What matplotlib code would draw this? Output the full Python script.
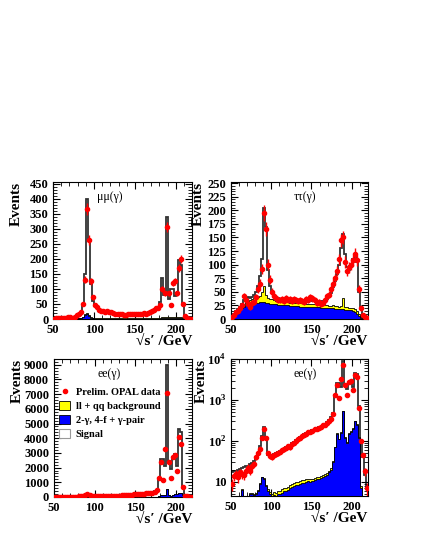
import numpy as np
import matplotlib
matplotlib.use('Agg')
import matplotlib.pyplot as plt
from matplotlib.patches import Patch
from matplotlib.lines import Line2D
from matplotlib.ticker import MultipleLocator, FixedLocator, NullFormatter

plt.rcParams['font.family'] = ['Liberation Serif', 'DejaVu Serif']
plt.rcParams['mathtext.fontset'] = 'custom'
plt.rcParams['mathtext.rm'] = 'Liberation Serif:bold'
plt.rcParams['mathtext.bf'] = 'Liberation Serif:bold'

# sqrt(s') bins, 2.5 GeV wide from 50 to 220 GeV
edges = np.arange(50.0, 220.1, 2.5)

# ---- mu mu (gamma) ----
mm_data = [1, 2, 2, 3, 2, 4, 3, 5, 6, 4, 8, 12, 15, 22, 50, 130, 365, 262, 125, 72,
           45, 40, 30, 28, 25, 22, 26, 24, 22, 20, 18, 16, 18, 15, 13, 14, 17, 18, 16, 17,
           15, 17, 18, 16, 20, 17, 20, 22, 25, 30, 35, 38, 45, 100, 85, 305, 85, 45, 120, 125,
           85, 170, 200, 50, 10, 3, 1, 1]
mm_total = [2, 2, 2, 3, 3, 3, 4, 4, 5, 6, 7, 9, 12, 20, 45, 150, 400, 265, 115, 60,
            42, 35, 30, 27, 25, 24, 22, 21, 20, 19, 18, 17, 17, 16, 16, 15, 15, 15, 15, 16,
            16, 16, 17, 17, 18, 19, 20, 22, 24, 27, 32, 40, 55, 135, 80, 340, 65, 100, 100, 75,
            80, 195, 180, 45, 8, 3, 2, 1]
mm_twogam = [0.5, 0.5, 0.5, 0.5, 1, 1, 1, 1, 1, 1, 1, 1, 2, 3, 6, 12, 15, 10, 4, 2,
             1, 1, 1, 1, 1, 1, 1, 1, 1, 1, 1, 1, 1, 1, 1, 1, 1, 1, 1, 1,
             1, 1, 1, 1, 1, 1, 1, 1, 1, 1, 1, 1, 1, 2, 2, 3, 2, 2, 2, 2,
             2, 2, 2, 1, 0.5, 0, 0, 0]
mm_llqq = [0.5, 0.5, 0.5, 0.5, 1, 1, 1, 1, 1, 1, 1, 1, 1, 1, 2, 3, 4, 3, 2, 1,
           1, 1, 1, 1, 1, 1, 1, 1, 1, 1, 1, 1, 1, 1, 1, 1, 1, 1, 1, 1,
           1, 1, 1, 1, 1, 1, 1, 1, 1, 1, 2, 2, 2, 3, 3, 5, 3, 3, 3, 3,
           3, 3, 3, 2, 1, 0, 0, 0]

# ---- tau tau (gamma) ----
tt_data = [3, 8, 12, 15, 20, 25, 42, 35, 28, 22, 30, 32, 40, 55, 65, 92, 195, 165, 100, 72,
           50, 42, 38, 35, 35, 36, 34, 38, 35, 36, 34, 36, 35, 33, 35, 33, 32, 36, 35, 40,
           38, 35, 30, 32, 28, 30, 35, 42, 45, 55, 65, 75, 88, 110, 145, 150, 105, 88, 95, 100,
           108, 120, 108, 55, 20, 8, 3, 1]
tt_total = [5, 10, 14, 18, 22, 28, 35, 38, 40, 38, 40, 45, 50, 60, 80, 110, 205, 170, 90, 60,
            48, 42, 40, 38, 37, 36, 36, 36, 35, 35, 35, 35, 35, 35, 34, 34, 34, 34, 34, 33,
            33, 33, 33, 33, 33, 33, 35, 37, 40, 48, 58, 70, 82, 100, 130, 157, 120, 95, 90, 100,
            110, 118, 105, 50, 20, 10, 5, 3]
tt_twogam = [3, 6, 10, 14, 17, 20, 23, 25, 27, 28, 29, 30, 30, 30, 31, 31, 31, 30, 29, 28,
             28, 27, 27, 26, 26, 25, 25, 25, 25, 24, 24, 24, 24, 24, 23, 23, 23, 23, 23, 22,
             22, 22, 22, 22, 21, 21, 21, 21, 20, 20, 20, 19, 19, 18, 18, 18, 17, 17, 16, 16,
             15, 13, 10, 6, 2, 0, 0, 0]
tt_llqq = [1, 1, 2, 2, 3, 4, 5, 6, 7, 7, 8, 8, 8, 10, 12, 18, 30, 15, 10, 9,
           8, 8, 7, 7, 7, 7, 7, 7, 6, 6, 6, 6, 6, 6, 6, 6, 6, 5, 5, 5,
           5, 5, 5, 5, 5, 5, 4, 4, 4, 4, 5, 5, 5, 5, 6, 20, 6, 5, 5, 5,
           5, 5, 5, 4, 2, 1, 1, 0]

# ---- e e (gamma) ----
ee_data = [9, 14, 16, 13, 17, 16, 15, 19, 22, 19, 25, 28, 40, 52, 62, 120, 200, 120, 50, 42,
           40, 45, 48, 50, 55, 60, 62, 68, 75, 70, 85, 90, 100, 110, 120, 135, 140, 150, 165, 170,
           180, 195, 200, 205, 220, 240, 250, 270, 300, 340, 450, 1300, 2350, 1150, 3300, 7050,
           2350, 1300, 2750, 2850, 1800, 4100, 3600, 650, 100, 45, 18, 7]
ee_total = [17, 18, 19, 20, 21, 22, 23, 24, 25, 27, 29, 32, 38, 50, 75, 130, 220, 110, 45, 42,
            45, 48, 50, 53, 57, 60, 65, 70, 75, 80, 88, 95, 105, 115, 125, 135, 145, 155, 165, 175,
            185, 195, 205, 215, 225, 240, 260, 285, 320, 380, 480, 1300, 2600, 2600, 2100, 9000,
            2400, 1900, 2700, 2900, 2100, 4600, 4400, 700, 95, 40, 15, 8]
ee_twogam = [2, 2, 3, 3, 4, 6.5, 4, 4, 4, 5, 5, 4.8, 5, 6, 9, 13, 12, 8, 6, 5,
             4, 4.8, 4.5, 5, 5, 5.5, 6, 6, 6.5, 7, 7.5, 8, 8.5, 8.5, 9, 9.5, 9.5, 10, 10.5, 10,
             10.5, 11, 11.5, 12, 12.5, 13, 14, 15, 17, 20, 30, 70, 150, 110, 160, 550,
             120, 90, 150, 170, 200, 300, 250, 120, 7, 0.5, 0.5, 0.5]
ee_llqq = [0.3, 0.3, 0.3, 0.3, 0.3, 0.3, 0.3, 0.3, 0.4, 0.4, 0.4, 0.4, 0.5, 0.5, 0.5, 0.5, 0.5, 0.5, 0.6, 0.8,
           1, 1, 1, 1, 1, 1.1, 1.1, 1.2, 1.2, 1.3, 1.4, 1.5, 1.5, 1.5, 1.5, 1.5, 1.5, 1.5, 1.5, 1.5,
           1.5, 1.5, 1.5, 1.5, 1.5, 1.5, 1.5, 1.5, 1.5, 1.5, 2, 3, 3, 3, 3, 3,
           3, 3, 3, 3, 3, 3, 3, 2, 1, 0, 0, 0]

channel_labels = ['\u03bc\u03bc(\u03b3)', '\u03c4\u03c4(\u03b3)', 'ee(\u03b3)', 'ee(\u03b3)']
legend_labels = ['Prelim. OPAL data', 'll + qq background',
                 '2-\u03b3, 4-f + \u03b3-pair', 'Signal']
xlabel = '\u221as\u2032 /GeV'

tick_font = dict(family=['Liberation Serif', 'DejaVu Serif'], weight='bold', size=9)


def draw_channel(ax, data, total, twogam, llqq, log=False):
    data = np.array(data, float)
    total = np.array(total, float)
    twogam = np.array(twogam, float)
    llqq = np.array(llqq, float)
    base = 0.1 if log else 0.0
    ax.stairs(total, edges, baseline=base, fill=True, facecolor='white',
              edgecolor='#333333', linewidth=1.3, zorder=1)
    ax.stairs(np.maximum(twogam + llqq, base), edges, baseline=base, fill=True,
              facecolor='#ffff00', edgecolor='black', linewidth=0.6, zorder=2)
    ax.stairs(np.maximum(twogam, base), edges, baseline=base, fill=True,
              facecolor='#0000ff', edgecolor='black', linewidth=0.6, zorder=3)
    centers = 0.5 * (edges[:-1] + edges[1:])
    err = np.sqrt(data)
    ax.errorbar(centers, data, yerr=err, fmt='o', color='#ff0000', ms=3,
                elinewidth=1.0, capsize=0, zorder=4)


def style_axis(ax, ylabel_x):
    ax.set_xlim(50, 220)
    ax.xaxis.set_major_locator(FixedLocator([50, 100, 150, 200]))
    ax.xaxis.set_minor_locator(MultipleLocator(10))
    ax.tick_params(which='both', direction='in', top=True, right=True)
    ax.tick_params(which='major', length=5, width=0.8)
    ax.tick_params(which='minor', length=3, width=0.6)
    for lab in ax.get_xticklabels() + ax.get_yticklabels():
        lab.set_fontproperties(tick_font)
    ax.set_ylabel('Events', loc='top', fontsize=11, fontweight='bold')
    ax.yaxis.set_label_coords(ylabel_x, 1.0)
    ax.set_xlabel(xlabel, loc='right', fontsize=11, fontweight='bold')
    ax.xaxis.set_label_coords(1.0, -0.115)


fig = plt.figure(figsize=(4.25, 5.5), dpi=100)
ax1 = fig.add_axes([0.125, 0.420, 0.327, 0.249])
ax2 = fig.add_axes([0.5435, 0.420, 0.322, 0.249])
ax3 = fig.add_axes([0.127, 0.0964, 0.325, 0.251])
ax4 = fig.add_axes([0.5435, 0.098, 0.322, 0.249])

draw_channel(ax1, mm_data, mm_total, mm_twogam, mm_llqq)
ax1.set_ylim(0, 455)
ax1.yaxis.set_major_locator(MultipleLocator(50))
ax1.yaxis.set_minor_locator(MultipleLocator(10))
style_axis(ax1, -0.22)
ax1.text(0.41, 0.89, channel_labels[0], transform=ax1.transAxes, ha='center',
         va='center', fontsize=8.5)

draw_channel(ax2, tt_data, tt_total, tt_twogam, tt_llqq)
ax2.set_ylim(0, 252)
ax2.yaxis.set_major_locator(MultipleLocator(25))
ax2.yaxis.set_minor_locator(MultipleLocator(5))
style_axis(ax2, -0.19)
ax2.text(0.54, 0.89, channel_labels[1], transform=ax2.transAxes, ha='center',
         va='center', fontsize=8.5)

draw_channel(ax3, ee_data, ee_total, ee_twogam, ee_llqq)
ax3.set_ylim(0, 9400)
ax3.yaxis.set_major_locator(MultipleLocator(1000))
ax3.yaxis.set_minor_locator(MultipleLocator(200))
style_axis(ax3, -0.22)
ax3.text(0.40, 0.89, channel_labels[2], transform=ax3.transAxes, ha='center',
         va='center', fontsize=8.5)
handles = [Line2D([], [], ls='none', marker='o', ms=3, color='#ff0000'),
           Patch(facecolor='#ffff00', edgecolor='black', linewidth=0.6),
           Patch(facecolor='#0000ff', edgecolor='black', linewidth=0.6),
           Patch(facecolor='white', edgecolor='0.6', linewidth=0.8)]
ax3.legend(handles, legend_labels, loc='upper left', bbox_to_anchor=(-0.01, 0.84),
           frameon=False, handlelength=1.1, handleheight=1.0, handletextpad=0.5,
           labelspacing=0.35, borderaxespad=0.2,
           prop=dict(family=['Liberation Serif', 'DejaVu Serif'], weight='bold', size=7.5))

draw_channel(ax4, ee_data, ee_total, ee_twogam, ee_llqq, log=True)
ax4.set_yscale('log')
ax4.set_ylim(4.5, 1e4)
ax4.yaxis.set_major_locator(FixedLocator([10, 100, 1000, 10000]))
ax4.set_yticklabels(['10', '$10^{2}$', '$10^{3}$', '$10^{4}$'])
ax4.yaxis.set_minor_locator(FixedLocator([k * 10.0 ** e for e in range(0, 4)
                                          for k in range(2, 10)]))
ax4.yaxis.set_minor_formatter(NullFormatter())
style_axis(ax4, -0.17)
ax4.text(0.54, 0.89, channel_labels[3], transform=ax4.transAxes, ha='center',
         va='center', fontsize=8.5)

fig.savefig('out.png', dpi=100)
